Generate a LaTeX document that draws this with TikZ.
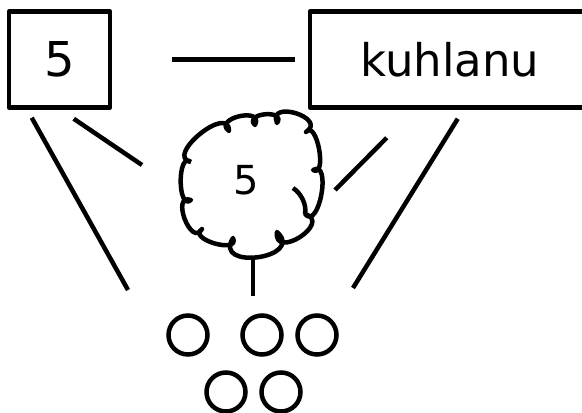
\documentclass[tikz,border=0pt]{standalone}
\usepackage{fontspec}
\setmainfont{DejaVu Sans}
\usetikzlibrary{calc}
\tikzset{
  box/.style={draw, line width=4.5pt, line join=round, minimum height=96pt},
  link/.style={line width=4.5pt},
  dot/.style={draw, circle, line width=4.5pt, minimum size=39pt, inner sep=0pt},
  bulge/.style={to path={.. controls ($(\tikztostart)!#1!130:(\tikztotarget)$) and ($(\tikztotarget)!#1!-130:(\tikztostart)$) .. (\tikztotarget)}},
}

\begin{document}
\begin{tikzpicture}[x=1pt,y=-1pt]
                \useasboundingbox (0,0) rectangle (582,413);
                \node[box, minimum width=101pt, font=\fontsize{48}{52}\selectfont] (five) at (59.5,59.5) {5};
                \node[box, minimum width=280pt, font=\fontsize{45}{50}\selectfont] (word) at (450,59.5) {kuhlanu};
                % cloud outline, notch points between the puffs
                \coordinate (n1) at (191,162);
                \coordinate (n2) at (229,131);
                \coordinate (n3) at (255,125);
                \coordinate (n4) at (277,123);
                \coordinate (n5) at (306,132);
                \coordinate (n6) at (313,170);
                \coordinate (n7) at (305,214);
                \coordinate (n8) at (277,232);
                \coordinate (n9) at (233,238);
                \coordinate (n10) at (202,229);
                \coordinate (n11) at (191,200);
                \draw[link, line join=round] (n1) to[bulge=28pt] (n2) to[bulge=21pt] (n3) to[bulge=17pt] (n4)
                  to[bulge=26pt] (n5) to[bulge=17pt] (n6) to[bulge=22pt] (n7) to[bulge=29pt] (n8)
                  to[bulge=39pt] (n9) to[bulge=18pt] (n10) to[bulge=22pt] (n11) to[bulge=18pt] (n1);
                \draw[link] (293,188) .. controls (301,193) and (307,205) .. (n7);
                \node[font=\fontsize{40}{44}\selectfont] (cloudnum) at (246,180) {5};
                \node[dot] (d1) at (188,335) {};
                \node[dot] (d2) at (262,335) {};
                \node[dot] (d3) at (317,335) {};
                \node[dot] (d4) at (226,392) {};
                \node[dot] (d5) at (281,392) {};
                % free ends of the connectors
                \coordinate (endL) at (128,290);
                \coordinate (endC) at (142,165);
                \coordinate (endR) at (335,190);
                \coordinate (endW) at (353,288);
                \coordinate (cloudbot) at (253,258);
                \coordinate (endM) at (253,296);
                \draw[link, shorten <=60pt, shorten >=13pt] (five.east) -- (word.west);
                \draw[link] ([shift={(25pt,-8pt)}]five.south west) -- (endL);
                \draw[link] ([shift={(67pt,-9pt)}]five.south west) -- (endC);
                \draw[link] ([shift={(79pt,-28pt)}]word.south west) -- (endR);
                \draw[link] ([shift={(150pt,-9pt)}]word.south west) -- (endW);
                \draw[link] (cloudbot) -- (endM);
\end{tikzpicture}
\end{document}
